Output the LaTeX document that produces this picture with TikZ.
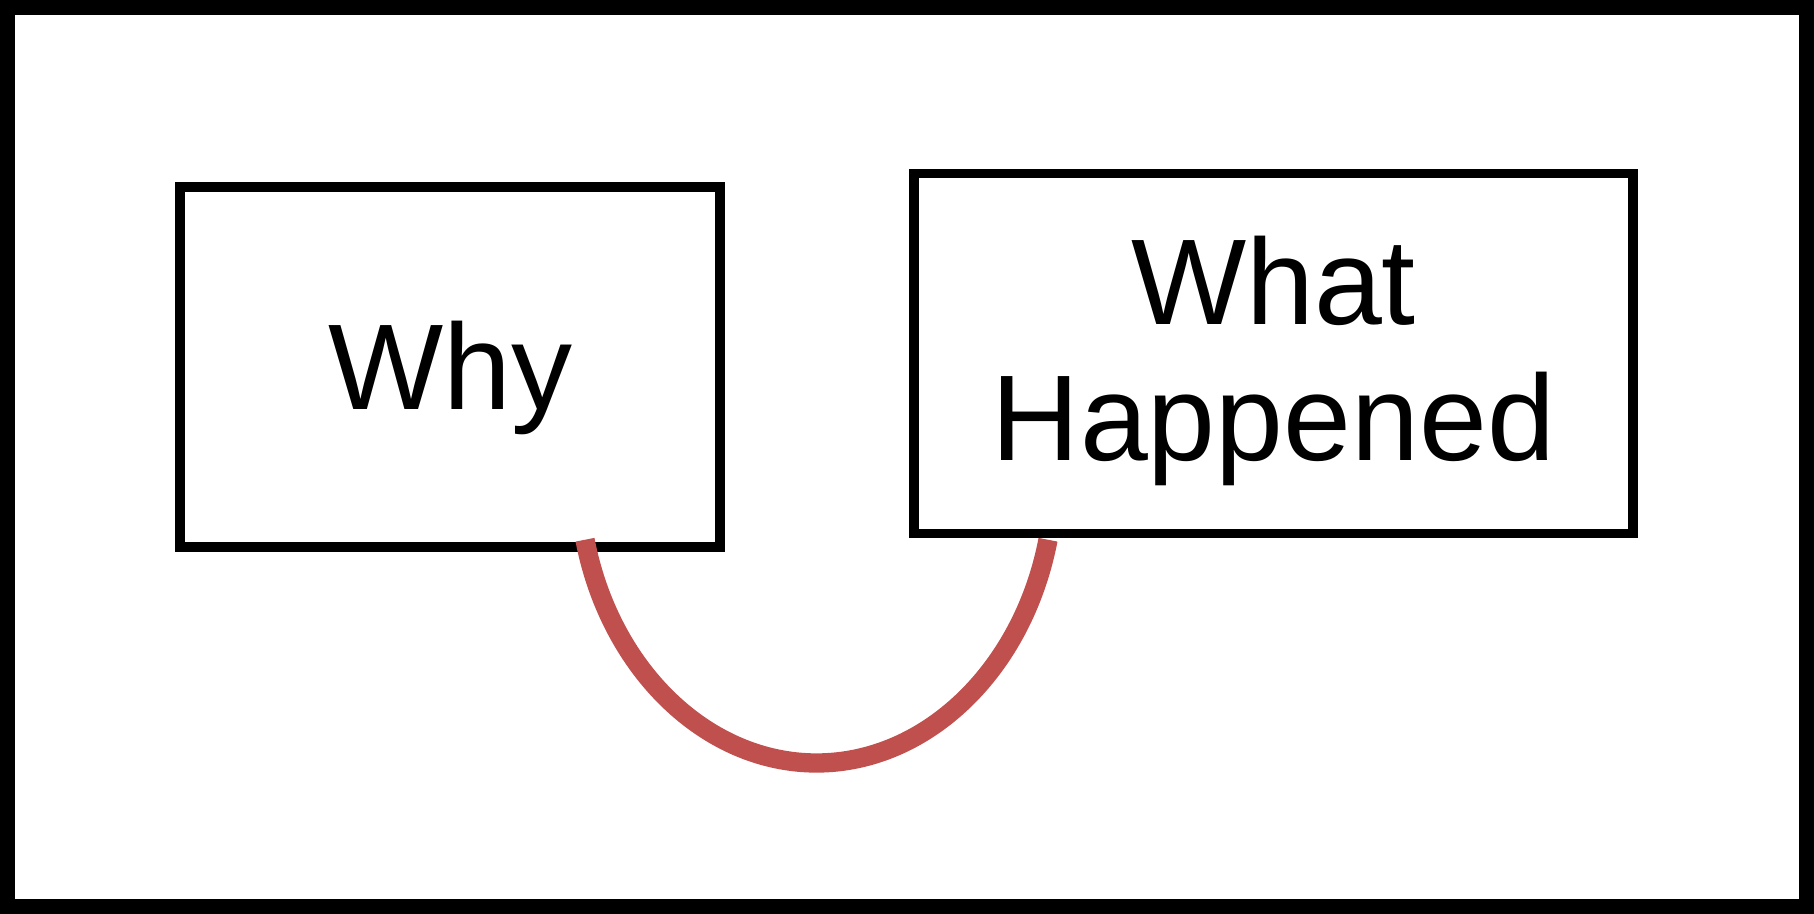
\documentclass[tikz,border=0pt]{standalone}
\usepackage{fontspec}
\setmainfont{Liberation Sans}
\definecolor{linkred}{RGB}{192,80,77}
\begin{document}
\begin{tikzpicture}[x=0.5pt,y=-0.5pt,
  box/.style={draw=black, line width=4.75pt, rectangle, minimum width=#1,
    minimum height=180pt, inner sep=0pt,
    font=\fontsize{61}{68}\selectfont, align=center},
  link/.style={draw=linkred, line width=9.65pt, line cap=butt}]
\useasboundingbox (0,0) rectangle (1814,914);
\draw[line width=7.5pt] (7.5,7.5) rectangle (1806.5,906.5);
\node[box=270pt, text depth=2pt] (why) at (450,367) {Why};
\node[box=359.5pt, text depth=5pt] (what) at (1273.5,353.3) {What\\Happened};
\coordinate (ls) at ([shift={(135,-12)}]why.south);
\coordinate (le) at ([shift={(-225.5,1.7)}]what.south);
\coordinate (bot) at (816.5,763);
\draw[link] (ls) .. controls +(25,130) and +(-110,0) .. (bot)
  .. controls +(110,0) and +(-25,130) .. (le);
\end{tikzpicture}
\end{document}
